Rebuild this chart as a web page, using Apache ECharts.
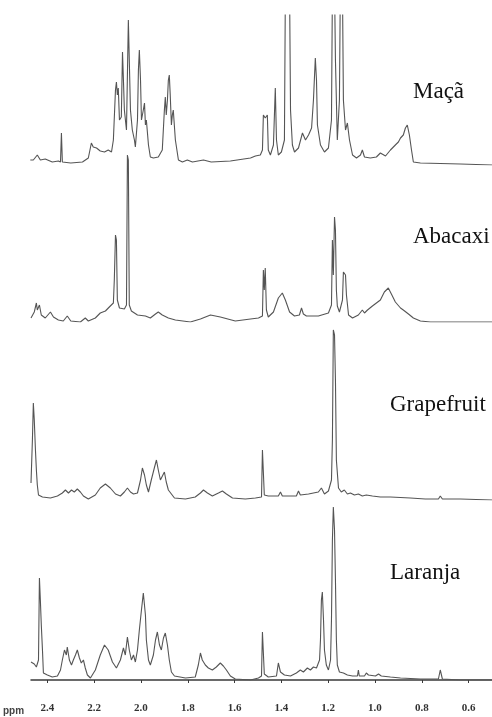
<!DOCTYPE html>
<html>
<head>
<meta charset="utf-8">
<script src="https://cdn.jsdelivr.net/npm/echarts@6/dist/echarts.min.js"></script>
<style>
  html, body { margin: 0; padding: 0; background: #fff; }
  #chart { width: 492px; height: 717px; }
</style>
</head>
<body>
<div id="chart"></div>
<script>
// 1H NMR spectra (0.5 - 2.47 ppm) of four fruit aromas, stacked top to bottom.
// Each trace is a list of [chemical shift (ppm), relative intensity].

const ppmTicks = [2.4, 2.2, 2.0, 1.8, 1.6, 1.4, 1.2, 1.0, 0.8, 0.6];
const sampleNames = ['Maçã', 'Abacaxi', 'Grapefruit', 'Laranja'];

const maca = [
  [2.473, 5], [2.46, 5], [2.443, 10], [2.43, 5], [2.409, 6], [2.379, 3], [2.353, 4], [2.344, 3],
  [2.340, 32], [2.336, 3], [2.30, 2], [2.25, 3], [2.225, 7], [2.212, 22], [2.204, 18], [2.19, 17],
  [2.174, 14], [2.156, 13], [2.14, 15], [2.126, 13], [2.118, 25], [2.109, 75], [2.105, 83],
  [2.101, 70], [2.097, 77], [2.092, 45], [2.084, 48], [2.079, 113], [2.075, 85], [2.071, 55],
  [2.062, 35], [2.058, 90], [2.054, 145], [2.050, 105], [2.045, 55], [2.037, 35], [2.028, 25],
  [2.024, 18], [2.015, 45], [2.011, 95], [2.007, 115], [2.002, 85], [1.998, 45], [1.990, 55],
  [1.985, 62], [1.981, 40], [1.977, 45], [1.968, 20], [1.960, 8], [1.947, 7], [1.926, 8],
  [1.909, 15], [1.900, 55], [1.896, 68], [1.892, 50], [1.887, 65], [1.883, 85], [1.879, 90],
  [1.875, 70], [1.870, 40], [1.866, 50], [1.862, 55], [1.853, 25], [1.840, 5], [1.823, 3],
  [1.802, 5], [1.78, 3], [1.733, 5], [1.70, 3], [1.618, 4], [1.532, 7], [1.511, 9], [1.49, 10],
  [1.481, 15], [1.477, 50], [1.469, 47], [1.460, 50], [1.456, 15], [1.447, 10], [1.434, 20],
  [1.426, 77], [1.421, 25], [1.413, 10], [1.40, 13], [1.387, 25], [1.383, 175], [1.374, 180],
  [1.365, 175], [1.361, 55], [1.353, 20], [1.344, 13], [1.327, 17], [1.310, 32], [1.297, 25],
  [1.284, 30], [1.271, 37], [1.263, 65], [1.255, 107], [1.250, 85], [1.246, 40], [1.233, 20],
  [1.216, 13], [1.199, 17], [1.186, 45], [1.182, 175], [1.173, 180], [1.169, 105], [1.161, 25],
  [1.152, 65], [1.148, 180], [1.139, 175], [1.135, 65], [1.126, 35], [1.118, 42], [1.109, 25],
  [1.096, 10], [1.079, 7], [1.062, 10], [1.054, 15], [1.045, 8], [1.02, 7], [0.994, 8],
  [0.977, 12], [0.955, 9], [0.934, 15], [0.913, 20], [0.90, 23], [0.891, 27], [0.879, 30],
  [0.870, 37], [0.862, 40], [0.853, 30], [0.844, 15], [0.836, 3], [0.806, 2], [0.635, 1], [0.5, 0]
];

const abacaxi = [
  [2.47, 4], [2.464, 4], [2.456, 10], [2.447, 19], [2.443, 12], [2.434, 17], [2.426, 7], [2.409, 4],
  [2.387, 10], [2.374, 5], [2.353, 2], [2.332, 1], [2.315, 6], [2.30, 1], [2.259, 0], [2.238, 4],
  [2.225, 1], [2.195, 4], [2.174, 9], [2.152, 11], [2.131, 16], [2.118, 19], [2.114, 42],
  [2.109, 87], [2.105, 82], [2.101, 22], [2.092, 14], [2.071, 13], [2.062, 17], [2.058, 167],
  [2.054, 162], [2.050, 17], [2.041, 11], [2.028, 9], [2.015, 7], [1.981, 6], [1.96, 4],
  [1.938, 8], [1.926, 10], [1.909, 7], [1.883, 4], [1.853, 2], [1.789, 0], [1.746, 3], [1.703, 7],
  [1.661, 5], [1.597, 1], [1.532, 3], [1.498, 4], [1.481, 6], [1.477, 52], [1.473, 32],
  [1.469, 54], [1.464, 12], [1.456, 5], [1.434, 10], [1.413, 24], [1.396, 29], [1.383, 22],
  [1.365, 10], [1.344, 6], [1.323, 7], [1.314, 14], [1.306, 8], [1.293, 6], [1.242, 6],
  [1.199, 9], [1.186, 17], [1.182, 82], [1.178, 47], [1.173, 105], [1.169, 92], [1.165, 32],
  [1.161, 16], [1.152, 10], [1.139, 22], [1.135, 50], [1.126, 47], [1.122, 27], [1.113, 7],
  [1.096, 4], [1.071, 7], [1.054, 12], [1.045, 9], [1.032, 12], [1.011, 16], [0.994, 19],
  [0.977, 22], [0.96, 30], [0.943, 34], [0.930, 28], [0.913, 20], [0.891, 14], [0.879, 12],
  [0.857, 8], [0.836, 4], [0.806, 1], [0.763, 0], [0.5, 0]
];

const grapefruit = [
  [2.47, 17], [2.464, 60], [2.46, 97], [2.456, 80], [2.451, 50], [2.447, 30], [2.443, 15],
  [2.438, 5], [2.421, 3], [2.387, 2], [2.357, 4], [2.336, 7], [2.323, 10], [2.31, 7], [2.297, 10],
  [2.285, 8], [2.272, 11], [2.259, 8], [2.246, 4], [2.225, 1], [2.195, 5], [2.174, 12],
  [2.152, 16], [2.131, 12], [2.109, 6], [2.088, 4], [2.071, 8], [2.058, 12], [2.045, 8],
  [2.032, 6], [2.015, 7], [2.002, 20], [1.994, 32], [1.985, 25], [1.977, 15], [1.968, 8],
  [1.956, 20], [1.943, 32], [1.934, 40], [1.926, 30], [1.917, 20], [1.909, 22], [1.90, 28],
  [1.892, 18], [1.883, 10], [1.870, 6], [1.857, 2], [1.81, 1], [1.768, 3], [1.746, 7],
  [1.733, 10], [1.716, 7], [1.695, 4], [1.669, 7], [1.652, 9], [1.635, 6], [1.609, 2],
  [1.554, 1], [1.511, 2], [1.485, 3], [1.481, 50], [1.477, 52], [1.473, 5], [1.456, 4],
  [1.413, 4], [1.404, 8], [1.396, 4], [1.336, 4], [1.327, 9], [1.319, 5], [1.284, 6],
  [1.242, 8], [1.229, 12], [1.216, 6], [1.199, 9], [1.186, 20], [1.182, 60], [1.178, 170],
  [1.173, 165], [1.169, 120], [1.165, 40], [1.156, 12], [1.144, 8], [1.131, 10], [1.118, 6],
  [1.105, 7], [1.088, 5], [1.071, 6], [1.054, 4], [1.037, 5], [1.011, 4], [0.977, 3],
  [0.934, 3], [0.849, 2], [0.785, 1], [0.729, 1], [0.721, 4], [0.712, 1], [0.635, 1], [0.5, 0]
];

const laranja = [
  [2.47, 18], [2.456, 16], [2.447, 13], [2.438, 20], [2.434, 102], [2.430, 80], [2.426, 55],
  [2.421, 30], [2.417, 7], [2.40, 5], [2.379, 3], [2.357, 4], [2.344, 10], [2.336, 20],
  [2.327, 30], [2.319, 25], [2.315, 33], [2.306, 20], [2.297, 15], [2.289, 20], [2.28, 25],
  [2.272, 30], [2.263, 22], [2.255, 17], [2.246, 20], [2.238, 12], [2.229, 5], [2.216, 2],
  [2.195, 10], [2.174, 25], [2.156, 35], [2.14, 30], [2.122, 18], [2.105, 12], [2.088, 20],
  [2.075, 32], [2.067, 25], [2.058, 43], [2.050, 30], [2.041, 20], [2.032, 25], [2.024, 18],
  [2.015, 30], [2.007, 50], [1.998, 70], [1.990, 87], [1.981, 65], [1.977, 40], [1.968, 20],
  [1.96, 15], [1.947, 25], [1.938, 40], [1.930, 48], [1.921, 35], [1.913, 30], [1.904, 42],
  [1.896, 47], [1.887, 35], [1.879, 20], [1.870, 8], [1.857, 4], [1.81, 2], [1.768, 3],
  [1.755, 15], [1.746, 27], [1.738, 20], [1.725, 15], [1.712, 12], [1.695, 10], [1.678, 13],
  [1.661, 17], [1.648, 14], [1.635, 10], [1.618, 4], [1.597, 1], [1.532, 0], [1.498, 2],
  [1.485, 4], [1.481, 48], [1.477, 50], [1.473, 6], [1.456, 3], [1.421, 4], [1.413, 17],
  [1.404, 8], [1.387, 5], [1.361, 4], [1.336, 7], [1.319, 10], [1.306, 8], [1.289, 12],
  [1.276, 10], [1.263, 13], [1.250, 12], [1.237, 20], [1.233, 40], [1.229, 80], [1.225, 88],
  [1.220, 60], [1.216, 30], [1.208, 15], [1.199, 10], [1.190, 20], [1.186, 60], [1.182, 140],
  [1.178, 173], [1.173, 150], [1.169, 100], [1.165, 40], [1.161, 15], [1.152, 8], [1.135, 7],
  [1.118, 5], [1.096, 4], [1.075, 4], [1.071, 10], [1.067, 4], [1.045, 4], [1.037, 7],
  [1.028, 5], [0.998, 4], [0.985, 6], [0.973, 4], [0.934, 3], [0.891, 2], [0.806, 1],
  [0.729, 1], [0.721, 10], [0.712, 1], [0.635, 0], [0.5, 0]
];

const traces = [maca, abacaxi, grapefruit, laranja];

// Panel geometry: top and baseline (bottom) of each stacked panel, in px.
const panels = [
  { top: 15, bottom: 165 },
  { top: 140, bottom: 322 },
  { top: 320, bottom: 500 },
  { top: 500, bottom: 680 }
];
const labelPos = [
  { x: 413, y: 92 },
  { x: 413, y: 237 },
  { x: 390, y: 405 },
  { x: 390, y: 573 }
];

const PPM_MIN = 0.5, PPM_MAX = 2.47;
const PLOT_LEFT = 31, PLOT_WIDTH = 461;

const chart = echarts.init(document.getElementById('chart'), null, { renderer: 'canvas' });

const grids = panels.map(p => ({
  left: PLOT_LEFT, width: PLOT_WIDTH, top: p.top, height: p.bottom - p.top
}));

const xAxes = panels.map((p, i) => {
  const last = i === panels.length - 1;
  return {
    type: 'value', gridIndex: i, inverse: true, min: PPM_MIN, max: PPM_MAX,
    show: last,
    offset: last ? 17 : 0,
    splitLine: { show: false },
    axisLine: { show: true, lineStyle: { color: '#3a3a3a', width: 1.5 } },
    axisTick: { show: true, length: 3, customValues: ppmTicks, lineStyle: { color: '#3a3a3a', width: 1 } },
    axisLabel: {
      customValues: ppmTicks,
      formatter: v => v.toFixed(1),
      color: '#333', fontSize: 11, fontWeight: 'bold',
      fontFamily: 'Liberation Serif', margin: 6
    }
  };
});

const yAxes = panels.map((p, i) => ({
  type: 'value', gridIndex: i, min: 0, max: p.bottom - p.top, show: false
}));

const series = traces.map((d, i) => ({
  name: sampleNames[i],
  type: 'line', xAxisIndex: i, yAxisIndex: i,
  data: d, symbol: 'none', showSymbol: false, smooth: false,
  lineStyle: { color: '#555', width: 1.1 },
  clip: true, silent: true
}));

const labels = sampleNames.map((name, i) => ({
  type: 'text', left: labelPos[i].x, top: labelPos[i].y - 12,
  style: { text: name, font: '23px "Liberation Serif"', fill: '#111' }
}));
labels.push({
  type: 'text', left: 3, top: 706,
  style: { text: 'ppm', font: 'bold 10px "Liberation Sans"', fill: '#444' }
});

chart.setOption({
  animation: false,
  backgroundColor: '#fff',
  grid: grids,
  xAxis: xAxes,
  yAxis: yAxes,
  series: series,
  graphic: labels
});
</script>
</body>
</html>
